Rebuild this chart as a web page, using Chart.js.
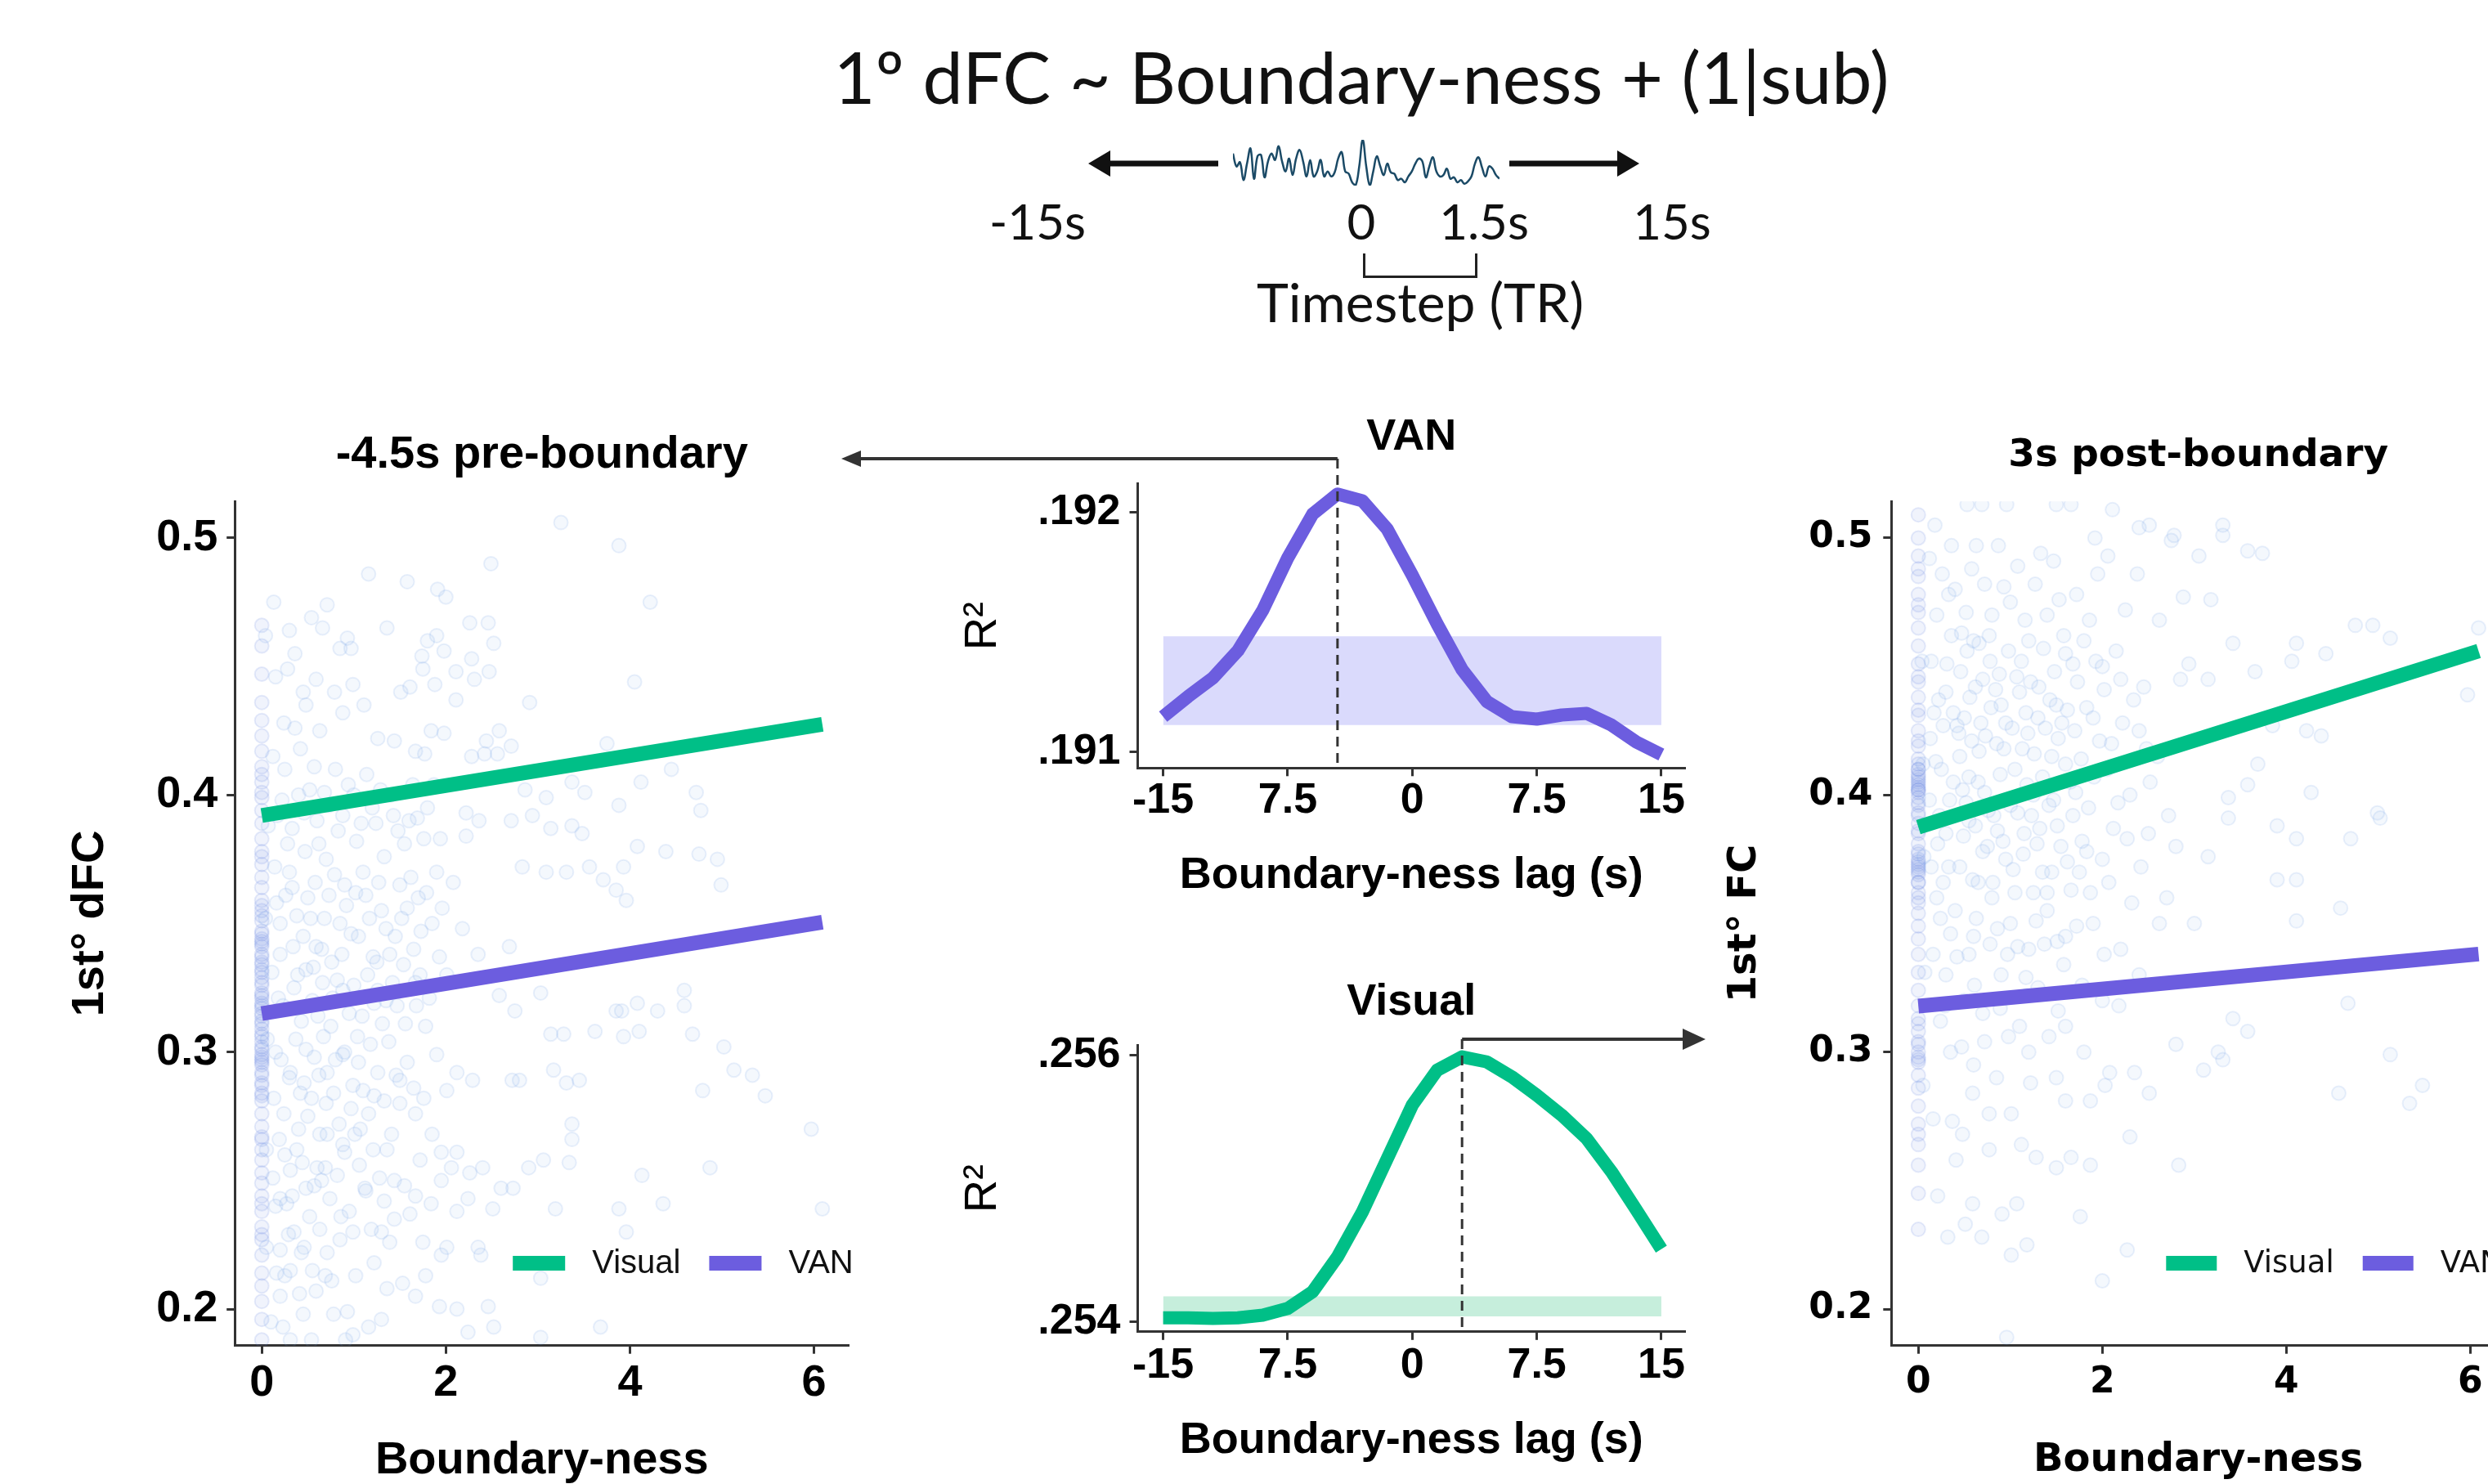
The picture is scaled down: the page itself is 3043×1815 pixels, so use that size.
<!DOCTYPE html>
<html>
<head>
<meta charset="utf-8">
<script src="https://cdn.jsdelivr.net/npm/chart.js@4.4.1/dist/chart.umd.min.js"></script>
<style>
  html, body { margin: 0; padding: 0; background: #fff; }
  body { width: 3043px; height: 1815px; position: relative; overflow: hidden; }
  canvas { position: absolute; }
  .txt { position: absolute; font-family: Lato, "Noto Sans", sans-serif; color: #111; white-space: nowrap;
         transform: translate(-50%, -50%); line-height: 1; }
  .bracket { position: absolute; box-sizing: border-box; border: 3px solid #222; border-top: none; }
</style>
</head>
<body>
<div class="txt" style="left:1665px; top:93px; font-size:88px;">1º dFC ~ Boundary-ness + (1|sub)</div>
<div class="txt" style="left:1269px; top:270px; font-size:60px;">-15s</div>
<div class="txt" style="left:1665px; top:270px; font-size:60px;">0</div>
<div class="txt" style="left:1815px; top:270px; font-size:60px;">1.5s</div>
<div class="txt" style="left:2045px; top:270px; font-size:60px;">15s</div>
<div class="bracket" style="left:1667px; top:310px; width:140px; height:30px;"></div>
<div class="txt" style="left:1737px; top:369px; font-size:66px;">Timestep (TR)</div>

<canvas id="wave" width="750" height="100" style="left:1300px; top:150px;"></canvas>
<canvas id="pre" width="1100" height="1400" style="left:0px; top:480px;"></canvas>
<canvas id="van" width="1100" height="660" style="left:1000px; top:470px;"></canvas>
<canvas id="vis" width="1100" height="660" style="left:1000px; top:1160px;"></canvas>
<canvas id="post" width="1100" height="1400" style="left:2050px; top:480px;"></canvas>

<script>
// ---- data ----
const waveY = [70,42,51,12,48,81,15,64,67,18,53,70,56,86,53,31,59,23,59,78,53,20,56,20,31,56,20,31,20,29,
  59,73,31,26,7,1,42,100,42,1,31,64,42,23,48,29,26,12,15,7,20,31,48,59,53,18,42,62,31,20,
  23,37,15,18,7,12,4,9,20,48,62,40,20,42,37,23,15];

const lags = [-15,-13.5,-12,-10.5,-9,-7.5,-6,-4.5,-3,-1.5,0,1.5,3,4.5,6,7.5,9,10.5,12,13.5,15];
const vanR2 = [0.191148,0.191232,0.191310,0.191423,0.191592,0.191810,0.191993,0.192077,0.192049,0.191930,
  0.191739,0.191535,0.191345,0.191211,0.191148,0.191138,0.191155,0.191162,0.191113,0.191042,0.190990];
const visualR2 = [0.25403,0.25403,0.254025,0.25403,0.25405,0.2541,0.254225,0.254488,0.254825,0.255225,
  0.255625,0.255888,0.255988,0.25595,0.255838,0.2557,0.25555,0.255375,0.255125,0.254838,0.254545];
const vanBand = [0.191113, 0.191483];
const visualBand = [0.25404, 0.25419];
const lagTicks = [-15, -7.5, 0, 7.5, 15];
const lagTickLabels = ['-15', '7.5', '0', '7.5', '15'];
const vanTicks = [0.191, 0.192];
const visualTicks = [0.254, 0.256];
const peakVAN = -4.5;
const peakVisual = 3;

const fcTicks = [0.2, 0.3, 0.4, 0.5];
const bTicks = [0, 2, 4, 6];
const preVisual = [[0, 0.392], [6.09, 0.4275]];
const preVAN = [[0, 0.315], [6.09, 0.3505]];
const postVisual = [[0, 0.3875], [6.09, 0.456]];
const postVAN = [[0, 0.3179], [6.09, 0.3381]];

const preZero = [0.188,0.196,0.203,0.209,0.214,0.221,0.227,0.232,0.238,0.244,0.249,0.253,0.258,0.262,0.267,
  0.271,0.276,0.281,0.284,0.288,0.291,0.295,0.298,0.301,0.304,0.307,0.309,0.312,0.315,0.318,0.321,0.323,
  0.326,0.329,0.332,0.335,0.338,0.341,0.344,0.347,0.351,0.355,0.359,0.364,0.368,0.373,0.378,0.383,0.389,
  0.394,0.399,0.405,0.411,0.417,0.423,0.429,0.436,0.447,0.458,0.466,0.302,0.317,0.331,0.296,0.343,
  0.283,0.287,0.292,0.297,0.299,0.306,0.311,0.314,0.319,0.322,0.327,0.334,0.337,0.342,0.346,0.353,0.357,
  0.229,0.241,0.266,0.401,0.408,0.376];
const prePoints = [
  [3.25,0.506],[3.88,0.497],[2.49,0.490],[1.16,0.486],[1.58,0.483],[1.91,0.480],[2.0,0.477],[0.13,0.475],
  [0.71,0.474],[0.54,0.469],[4.22,0.475],[1.36,0.465],[2.26,0.467],[2.46,0.467],[0.04,0.462],[0.30,0.464],
  [0.66,0.465],[0.93,0.461],[0.97,0.457],[1.90,0.462],[1.80,0.460],[2.52,0.459],[0.36,0.455],[0.85,0.457],
  [1.74,0.454],[1.75,0.449],[1.98,0.456],[2.28,0.453],[0.15,0.446],[0.28,0.449],[2.11,0.448],[2.47,0.448],
  [2.31,0.445],[0.59,0.445],[0.99,0.443],[0.79,0.440],[1.51,0.440],[1.61,0.442],[1.88,0.443],[4.05,0.444],
  [0.45,0.440],[0.48,0.435],[2.11,0.437],[2.91,0.436],[0.88,0.432],[1.11,0.435],[0.36,0.426],[0.24,0.428],
  [0.63,0.425],[1.84,0.425],[1.98,0.424],[2.58,0.425],[1.26,0.422],[1.44,0.421],[1.67,0.417],[1.77,0.416],
  [3.75,0.420],[2.44,0.421],[2.71,0.419],[2.28,0.415],[2.42,0.416],[2.56,0.416],[4.45,0.410],[2.86,0.402],
  [3.09,0.399],[3.37,0.405],[3.51,0.401],[4.12,0.405],[4.72,0.401],[4.77,0.394],[3.88,0.396],[3.14,0.387],
  [3.37,0.388],[3.48,0.385],[2.22,0.393],[2.36,0.390],[1.94,0.383],[2.22,0.384],[4.08,0.380],[2.71,0.390],
  [2.94,0.392],[4.39,0.378],[4.75,0.377],[4.95,0.375],[3.93,0.372],[3.31,0.370],[4.99,0.365],[3.56,0.372],
  [2.83,0.372],[3.09,0.370],[3.96,0.359],[3.71,0.367],[3.85,0.363],[4.59,0.324],[4.59,0.318],[4.30,0.316],
  [4.08,0.319],[3.91,0.316],[3.85,0.316],[4.68,0.307],[5.02,0.302],[5.13,0.293],[5.33,0.291],[5.47,0.283],
  [4.79,0.285],[3.45,0.289],[3.31,0.288],[3.17,0.293],[2.80,0.289],[2.72,0.289],[3.62,0.308],[3.93,0.306],
  [4.10,0.308],[3.14,0.307],[3.28,0.307],[5.97,0.270],[6.09,0.239],[4.87,0.255],[4.36,0.241],[4.13,0.252],
  [3.88,0.239],[3.96,0.230],[3.37,0.272],[3.37,0.266],[3.34,0.257],[3.06,0.258],[3.19,0.239],[2.90,0.255],
  [2.73,0.247],[2.60,0.247],[2.51,0.239],[2.40,0.255],[2.26,0.253],[2.06,0.255],[1.95,0.250],[2.24,0.243],
  [2.12,0.238],[2.01,0.224],[1.95,0.221],[2.35,0.224],[2.38,0.221],[3.03,0.212],[3.68,0.193],[3.03,0.189],
  [1.93,0.201],[2.12,0.200],[2.46,0.201],[2.52,0.193],[2.24,0.191],[1.36,0.208],[1.67,0.205],[1.78,0.213],
  [1.53,0.210],[1.30,0.196],[1.16,0.193],[0.99,0.190],[0.93,0.199],[0.59,0.207],[0.76,0.211],[0.45,0.198],
  [0.31,0.188],[0.54,0.188],[0.91,0.188],[0.31,0.215],[0.43,0.222],[0.20,0.223],[0.85,0.227],[0.99,0.230],
  [0.71,0.222],[1.30,0.230],[1.39,0.226],[1.44,0.235],[1.67,0.244],[1.84,0.241],[1.61,0.237],[1.13,0.246],
  [1.33,0.242],[1.44,0.250],[1.72,0.258],[1.95,0.261],[2.12,0.261],[0.65,0.250],[0.48,0.247],[0.31,0.254],
  [0.20,0.243],[0.71,0.268],[0.88,0.264],[1.07,0.270],[1.21,0.262],[1.50,0.280],[1.67,0.276],[1.33,0.281],
  [1.50,0.289],[2.01,0.285],[2.12,0.292],[1.90,0.299],[2.29,0.289],[0.54,0.282],[0.71,0.292],[0.88,0.299],
  [0.99,0.287],[0.31,0.292],[0.48,0.301],[1.18,0.303],[1.38,0.304],[1.56,0.311],[1.78,0.310],[1.22,0.319],
  [0.88,0.324],[1.67,0.327],[2.01,0.330],[2.35,0.338],[2.69,0.341],[2.75,0.316],[2.58,0.322],[3.03,0.323],
  [0.48,0.332],[0.76,0.335],[0.20,0.338],[0.59,0.341],[0.25,0.410],[0.40,0.400],[0.60,0.390],[0.80,0.410],
  [1.00,0.400],[1.20,0.395],[1.40,0.400],[1.60,0.390],[1.80,0.395],[0.30,0.370],[0.50,0.360],[0.70,0.375],
  [0.90,0.365],[1.10,0.370],[1.30,0.355],[1.50,0.365],[1.70,0.360],[1.90,0.370],[0.20,0.350],[0.45,0.345],
  [0.65,0.340],[0.85,0.350],[1.05,0.345],[1.25,0.335],[1.45,0.345],[1.65,0.340],[1.85,0.350],[0.35,0.325],
  [0.55,0.320],[0.75,0.310],[0.95,0.315],[1.15,0.330],[1.35,0.320],[0.15,0.300],[0.30,0.290],[0.50,0.275],
  [0.70,0.280],[0.90,0.300],[1.10,0.285],[0.25,0.260],[0.40,0.270],[0.60,0.255],[0.15,0.240],[0.35,0.230],
  [0.55,0.215],[0.20,0.205],[0.10,0.195],[0.05,0.262],[0.06,0.305],[0.04,0.352],[0.07,0.388],[0.05,0.224],
  [0.12,0.415],[0.22,0.398],[0.33,0.387],[0.42,0.418],[0.52,0.402],[0.62,0.381],[0.73,0.396],[0.83,0.386],
  [0.94,0.404],[1.03,0.382],[1.14,0.408],[1.24,0.389],[1.33,0.376],[1.43,0.392],[1.55,0.381],[1.64,0.404],
  [1.76,0.383],[1.87,0.404],[0.14,0.372],[0.26,0.361],[0.38,0.353],[0.47,0.378],[0.58,0.366],[0.68,0.352],
  [0.79,0.369],[0.92,0.357],[1.02,0.362],[1.17,0.352],[1.27,0.366],[1.39,0.338],[1.52,0.352],[1.62,0.368],
  [1.73,0.347],[1.96,0.356],[2.08,0.366],[2.18,0.348],[0.11,0.331],[0.23,0.318],[0.34,0.341],[0.43,0.312],
  [0.56,0.333],[0.66,0.327],[0.77,0.321],[0.87,0.338],[1.00,0.326],[1.09,0.314],[1.21,0.337],[1.31,0.311],
  [1.42,0.327],[1.54,0.334],[1.68,0.318],[1.82,0.321],[1.93,0.337],[0.13,0.282],[0.24,0.276],[0.37,0.305],
  [0.46,0.288],[0.57,0.298],[0.67,0.306],[0.78,0.284],[0.84,0.272],[0.97,0.278],[1.05,0.296],[1.16,0.276],
  [1.26,0.292],[1.41,0.268],[1.58,0.296],[1.76,0.282],[1.85,0.268],[0.12,0.251],[0.27,0.241],[0.38,0.262],
  [0.52,0.236],[0.63,0.268],[0.74,0.243],[0.82,0.252],[0.95,0.238],[1.06,0.256],[1.19,0.231],[1.28,0.251],
  [1.55,0.248],[1.75,0.226],[0.16,0.214],[0.29,0.229],[0.41,0.206],[0.63,0.231],[0.78,0.198],[1.02,0.213],
  [1.22,0.218],[0.23,0.193],
  [0.17,0.392],[0.28,0.381],[0.46,0.393],[0.57,0.411],[0.68,0.401],[0.88,0.392],[1.08,0.389],[1.29,0.402],
  [1.48,0.386],[1.69,0.391],[0.16,0.358],[0.33,0.364],[0.53,0.352],[0.73,0.361],[0.97,0.346],[1.13,0.361],
  [1.35,0.348],[1.58,0.356],[1.79,0.362],[0.18,0.321],[0.39,0.330],[0.61,0.314],[0.82,0.328],[1.04,0.306],
  [1.26,0.324],[1.47,0.318],[1.72,0.330],[0.21,0.297],[0.42,0.284],[0.62,0.291],[0.80,0.297],[1.01,0.268],
  [1.22,0.283],[1.46,0.291],[1.65,0.286],[0.19,0.266],[0.44,0.257],[0.69,0.255],[0.90,0.261],[1.12,0.247],
  [1.36,0.262],[0.33,0.244],[0.57,0.248],[0.86,0.236],[0.46,0.224],[0.69,0.213],[0.25,0.213]
];

const postZero = [0.231,0.245,0.256,0.264,0.272,0.279,0.286,0.291,0.296,0.300,0.304,0.308,0.313,0.318,0.324,
  0.331,0.338,0.344,0.349,0.354,0.358,0.362,0.366,0.369,0.372,0.375,0.378,0.381,0.385,0.389,0.393,0.396,
  0.399,0.401,0.403,0.405,0.407,0.410,0.414,0.419,0.425,0.431,0.438,0.444,0.451,0.458,0.465,0.471,0.478,
  0.485,0.493,0.500,0.509,0.402,0.406,0.374,0.371,0.298,0.397,0.402,0.404,0.408,0.410,0.412,0.366,0.370,
  0.373,0.377,0.360,0.386,0.392,0.421,0.433,0.446,0.297,0.303,0.311,0.268,0.474,0.488];
const postPoints = [
  [6.09,0.465],[5.97,0.439],[4.75,0.466],[4.94,0.466],[5.13,0.461],[3.74,0.494],[3.58,0.495],[3.31,0.505],
  [3.31,0.501],[3.05,0.493],[2.88,0.477],[3.18,0.476],[2.78,0.501],[2.75,0.499],[2.40,0.504],[2.51,0.505],
  [2.11,0.511],[1.92,0.500],[1.66,0.513],[1.50,0.513],[0.96,0.513],[0.69,0.513],[0.53,0.513],[4.11,0.459],
  [4.06,0.452],[4.43,0.455],[3.42,0.459],[3.66,0.448],[3.15,0.445],[2.94,0.451],[3.85,0.427],[4.22,0.425],
  [4.38,0.423],[4.27,0.401],[4.70,0.383],[5.02,0.391],[4.99,0.393],[3.90,0.388],[4.11,0.367],[4.11,0.383],
  [3.37,0.399],[3.37,0.391],[3.58,0.404],[3.69,0.412],[4.59,0.356],[4.11,0.351],[3.90,0.367],[5.13,0.299],
  [5.48,0.287],[5.34,0.280],[4.57,0.284],[4.67,0.319],[3.42,0.313],[3.58,0.308],[3.26,0.300],[3.10,0.293],
  [3.31,0.297],[2.80,0.303],[2.83,0.256],[2.51,0.284],[2.35,0.292],[2.03,0.287],[2.08,0.292],[1.87,0.281],
  [1.60,0.281],[1.50,0.255],[1.28,0.259],[1.12,0.264],[1.01,0.276],[0.77,0.276],[0.59,0.284],[0.37,0.273],
  [1.07,0.241],[0.91,0.237],[0.59,0.241],[0.21,0.244],[0.32,0.228],[1.18,0.225],[0.69,0.228],[1.01,0.221],
  [1.76,0.236],[2.27,0.223],[2.00,0.211],[0.96,0.189],[0.51,0.233],[0.48,0.268],[2.30,0.267],[1.87,0.256],
  [1.66,0.259],[0.20,0.470],[0.40,0.480],[0.60,0.460],[0.80,0.470],[1.00,0.475],[1.20,0.460],[1.40,0.470],
  [1.60,0.455],[1.80,0.460],[2.00,0.450],[2.20,0.445],[0.30,0.440],[0.50,0.430],[0.70,0.445],[0.90,0.435],
  [1.10,0.440],[1.30,0.430],[1.50,0.435],[1.70,0.425],[1.90,0.430],[2.10,0.420],[2.40,0.425],[0.25,0.410],
  [0.45,0.415],[0.65,0.405],[0.85,0.420],[1.05,0.410],[1.25,0.400],[1.45,0.415],[1.65,0.405],[1.85,0.395],
  [2.05,0.410],[2.30,0.400],[2.60,0.415],[0.30,0.385],[0.55,0.390],[0.75,0.380],[0.95,0.375],[1.15,0.385],
  [1.35,0.370],[1.55,0.380],[1.75,0.370],[2.00,0.375],[2.50,0.385],[2.80,0.380],[0.20,0.360],[0.40,0.355],
  [0.60,0.345],[0.80,0.360],[1.00,0.350],[1.20,0.340],[1.40,0.355],[1.60,0.345],[1.90,0.350],[2.20,0.340],
  [2.70,0.360],[3.00,0.350],[0.30,0.330],[0.50,0.320],[0.70,0.315],[0.90,0.330],[1.10,0.310],[1.30,0.325],
  [1.60,0.310],[2.00,0.320],[2.40,0.330],[0.35,0.300],[0.60,0.295],[0.85,0.290],[1.20,0.300],[1.50,0.290],
  [1.80,0.300],[0.05,0.412],[0.06,0.376],[0.04,0.452],[0.07,0.331],[0.05,0.287],
  [0.12,0.492],[0.26,0.486],[0.36,0.497],[0.47,0.463],[0.58,0.488],[0.72,0.482],[0.87,0.497],[1.08,0.489],
  [1.27,0.482],[1.47,0.491],[1.72,0.478],[1.95,0.486],[2.25,0.472],[2.62,0.468],[0.14,0.452],[0.22,0.437],
  [0.36,0.462],[0.46,0.448],[0.56,0.438],[0.66,0.459],[0.78,0.452],[0.88,0.447],[0.98,0.456],[1.12,0.452],
  [1.22,0.444],[1.36,0.457],[1.48,0.448],[1.58,0.462],[1.73,0.444],[1.93,0.452],[2.15,0.456],[2.45,0.442],
  [2.85,0.445],[0.13,0.422],[0.27,0.427],[0.38,0.432],[0.48,0.402],[0.58,0.421],[0.68,0.428],[0.79,0.434],
  [0.93,0.418],[1.02,0.426],[1.17,0.432],[1.26,0.416],[1.38,0.426],[1.52,0.422],[1.62,0.433],[1.77,0.414],
  [1.97,0.421],[2.22,0.428],[2.52,0.405],[0.12,0.398],[0.23,0.392],[0.38,0.405],[0.52,0.397],[0.62,0.388],
  [0.72,0.401],[0.82,0.392],[1.08,0.393],[1.18,0.404],[1.32,0.387],[1.42,0.396],[1.68,0.392],[1.78,0.382],
  [2.12,0.387],[2.42,0.372],[2.72,0.392],[3.15,0.376],[0.14,0.372],[0.27,0.366],[0.45,0.372],[0.65,0.366],
  [0.86,0.386],[1.05,0.362],[1.25,0.362],[1.45,0.370],[1.66,0.363],[1.87,0.362],[2.32,0.358],[2.62,0.350],
  [0.16,0.338],[0.35,0.346],[0.55,0.338],[0.78,0.342],[0.97,0.338],[1.17,0.329],[1.37,0.342],[1.58,0.334],
  [1.78,0.326],[2.18,0.318],[0.24,0.312],[0.47,0.302],[0.72,0.304],[0.98,0.306],[1.22,0.288],[1.42,0.306],
  [0.16,0.274],[0.41,0.258],[0.77,0.262],
  [0.18,0.505],[0.33,0.478],[0.52,0.471],[0.63,0.497],[0.77,0.462],[0.93,0.481],[1.16,0.468],[1.33,0.494],
  [1.53,0.476],[1.86,0.468],[2.06,0.493],[2.38,0.486],[0.17,0.432],[0.31,0.451],[0.42,0.427],[0.53,0.456],
  [0.62,0.442],[0.73,0.423],[0.84,0.441],[0.95,0.428],[1.07,0.446],[1.19,0.424],[1.31,0.442],[1.43,0.437],
  [1.56,0.428],[1.68,0.451],[1.83,0.434],[2.02,0.441],[2.34,0.437],[0.19,0.413],[0.34,0.398],[0.44,0.424],
  [0.55,0.407],[0.66,0.417],[0.76,0.394],[0.89,0.408],[1.00,0.396],[1.13,0.418],[1.23,0.392],[1.35,0.407],
  [1.47,0.398],[1.60,0.412],[1.71,0.401],[1.91,0.407],[2.17,0.397],[2.48,0.418],[0.21,0.381],[0.33,0.372],
  [0.49,0.384],[0.59,0.367],[0.70,0.378],[0.81,0.366],[0.92,0.382],[1.03,0.371],[1.14,0.377],[1.29,0.381],
  [1.40,0.362],[1.51,0.388],[1.62,0.374],[1.83,0.378],[2.07,0.366],[2.27,0.383],[0.24,0.352],[0.42,0.337],
  [0.63,0.352],[0.86,0.348],[1.08,0.341],[1.28,0.351],[1.51,0.343],[1.72,0.349],[2.02,0.338],[0.29,0.318],
  [0.61,0.326],[0.89,0.317],[1.18,0.322],[1.52,0.316]
];

// ---- styles ----
const GREEN = '#00BF87';
const PURPLE = '#6C5DDF';
const NARROW = "'Liberation Sans Narrow', 'Arial Narrow', 'Liberation Sans', sans-serif";
const WIDE = "'DejaVu Sans', sans-serif";
const AXIS = '#333';

Chart.defaults.devicePixelRatio = 1;

function drawArrow(ctx, x1, y, x2, lw, headLen, headHalf, color) {
  const dir = Math.sign(x2 - x1);
  ctx.save();
  ctx.strokeStyle = color;
  ctx.fillStyle = color;
  ctx.lineWidth = lw;
  ctx.setLineDash([]);
  ctx.beginPath();
  ctx.moveTo(x1, y);
  ctx.lineTo(x2 - dir * headLen * 0.8, y);
  ctx.stroke();
  ctx.beginPath();
  ctx.moveTo(x2, y);
  ctx.lineTo(x2 - dir * headLen, y - headHalf);
  ctx.lineTo(x2 - dir * headLen, y + headHalf);
  ctx.closePath();
  ctx.fill();
  ctx.restore();
}

// arrows either side of the waveform
const sideArrows = {
  id: 'sideArrows',
  afterDraw(chart, args, o) {
    const a = chart.chartArea;
    drawArrow(chart.ctx, a.left - o.gapL, o.y, a.left - o.gapL - o.len, 7, 27, 16, '#111');
    drawArrow(chart.ctx, a.right + o.gapR, o.y, a.right + o.gapR + o.len, 7, 27, 16, '#111');
  }
};

// dashed peak-lag line plus arrow pointing to the matching scatter panel
const lagMarker = {
  id: 'lagMarker',
  afterDatasetsDraw(chart, args, o) {
    const ctx = chart.ctx;
    const x = chart.scales.x.getPixelForValue(o.lag);
    ctx.save();
    ctx.strokeStyle = AXIS;
    ctx.lineWidth = 3;
    ctx.setLineDash([12, 8]);
    ctx.beginPath();
    ctx.moveTo(x, o.y);
    ctx.lineTo(x, chart.chartArea.bottom);
    ctx.stroke();
    ctx.restore();
    drawArrow(ctx, x, o.y, o.toX, 4, o.headLen, o.head, AXIS);
  }
};

// legend drawn inside the plot, bottom right
const insideLegend = {
  id: 'insideLegend',
  afterDatasetsDraw(chart, args, o) {
    const ctx = chart.ctx;
    const a = chart.chartArea;
    let x = a.left + o.x;
    const y = a.bottom + o.dy;
    ctx.save();
    ctx.font = o.font;
    ctx.textBaseline = 'middle';
    ctx.textAlign = 'left';
    chart.data.datasets.filter(d => d.type === 'line').forEach(d => {
      ctx.fillStyle = d.borderColor;
      ctx.fillRect(x, y - 9, o.swatch, 18);
      x += o.swatch + 33;
      ctx.fillStyle = '#111';
      ctx.fillText(d.label, x, y + 1);
      x += ctx.measureText(d.label).width + 35;
    });
    ctx.restore();
  }
};

new Chart(document.getElementById('wave'), {
  type: 'line',
  data: {
    datasets: [{
      data: waveY.map((v, i) => ({ x: i, y: v })),
      borderColor: '#1b4a66', borderWidth: 2.5, pointRadius: 0, tension: 0.4
    }]
  },
  options: {
    responsive: false, animation: false, events: [],
    layout: { padding: { left: 208, right: 216, top: 21, bottom: 23 } },
    plugins: { legend: { display: false }, tooltip: { enabled: false },
      sideArrows: { y: 50, gapL: 18, gapR: 12, len: 159 } },
    scales: {
      x: { type: 'linear', display: false, min: 0, max: waveY.length - 1 },
      y: { display: false, min: 0, max: 100 }
    }
  },
  plugins: [sideArrows]
});

function fcChart(id, c) {
  const tickFont = { family: c.family, size: c.tickSize, weight: 'bold', lineHeight: 1 };
  const titleFont = { family: c.family, size: c.titleSize, weight: 'bold', lineHeight: 1 };
  const line = (label, pts, color) => ({
    type: 'line', label: label, data: pts.map(p => ({ x: p[0], y: p[1] })),
    borderColor: color, borderWidth: 18, pointRadius: 0, fill: false
  });
  return new Chart(document.getElementById(id), {
    type: 'scatter',
    data: {
      datasets: [
        line('Visual', c.visual, GREEN),
        line('VAN', c.van, PURPLE),
        { label: 'obs', data: c.points.map(p => ({ x: p[0], y: p[1] })), pointRadius: 8.5, borderWidth: 2,
          backgroundColor: 'rgba(120,165,232,0.08)', borderColor: 'rgba(110,155,228,0.15)' },
        { label: 'obs at 0', data: c.zero.map(v => ({ x: 0, y: v })), pointRadius: 8.5, borderWidth: 2,
          backgroundColor: 'rgba(105,135,228,0.10)', borderColor: 'rgba(100,130,225,0.16)' }
      ]
    },
    options: {
      responsive: false, animation: false, events: [],
      layout: { padding: { left: 0, right: c.padRight, top: 0, bottom: 0 } },
      plugins: {
        legend: { display: false }, tooltip: { enabled: false },
        title: { display: true, text: c.title, fullSize: false, color: '#000', font: { family: c.family, size: c.headSize, weight: 'bold', lineHeight: 1 },
          padding: { top: c.headTop, bottom: c.headBottom } },
        insideLegend: c.legend
      },
      scales: {
        x: {
          type: 'linear', min: -0.293, max: 6.379,
          afterBuildTicks: s => { s.ticks = bTicks.map(v => ({ value: v })); },
          afterFit: s => { s.height = 234.3; },
          ticks: { font: tickFont, color: '#000', padding: c.xTickPad, callback: v => String(v) },
          grid: { drawOnChartArea: false, tickLength: 10, tickWidth: 3, tickColor: AXIS },
          border: { color: AXIS, width: 3 },
          title: { display: true, text: 'Boundary-ness', color: '#000', font: titleFont, padding: { top: 0, bottom: c.xTitlePad } }
        },
        y: {
          min: 0.1858, max: 0.5142,
          afterBuildTicks: s => { s.ticks = fcTicks.map(v => ({ value: v })); },
          afterFit: s => { s.width = c.yWidth; },
          ticks: { font: tickFont, color: '#000', padding: c.yTickPad, callback: v => v.toFixed(1) },
          grid: { drawOnChartArea: false, tickLength: 10, tickWidth: 3, tickColor: AXIS },
          border: { color: AXIS, width: 3 },
          title: { display: true, text: c.yTitle, color: '#000', font: titleFont, padding: { top: c.yTitlePad, bottom: 0 } }
        }
      }
    },
    plugins: [insideLegend]
  });
}

function lagChart(id, c) {
  const tickFont = { family: NARROW, size: 52, weight: 'bold', lineHeight: 1 };
  const headFont = { family: NARROW, size: 54, weight: 'bold', lineHeight: 1 };
  const pt = vals => lags.map((l, i) => ({ x: l, y: vals[i] }));
  return new Chart(document.getElementById(id), {
    type: 'line',
    data: {
      datasets: [
        { label: c.title, data: pt(c.values), borderColor: c.color, borderWidth: 16, pointRadius: 0,
          tension: 0, borderJoinStyle: 'round', fill: false },
        { label: 'band hi', data: [{ x: -15, y: c.band[1] }, { x: 15, y: c.band[1] }],
          borderColor: 'rgba(0,0,0,0)', pointRadius: 0, fill: false },
        { label: 'band lo', data: [{ x: -15, y: c.band[0] }, { x: 15, y: c.band[0] }],
          borderColor: 'rgba(0,0,0,0)', pointRadius: 0, fill: '-1', backgroundColor: c.bandColor }
      ]
    },
    options: {
      responsive: false, animation: false, events: [],
      layout: { padding: { left: 0, right: 39, top: 0, bottom: 0 } },
      plugins: {
        legend: { display: false }, tooltip: { enabled: false },
        title: { display: true, text: c.title, fullSize: false, color: '#000', font: headFont,
          padding: { top: c.headTop, bottom: c.headBottom } },
        lagMarker: c.marker
      },
      scales: {
        x: {
          type: 'linear', min: -16.53, max: 16.43,
          afterBuildTicks: s => { s.ticks = lagTicks.map(v => ({ value: v })); },
          afterFit: s => { s.height = c.xHeight; },
          ticks: { font: tickFont, color: '#000', padding: c.xTickPad, callback: (v, i) => lagTickLabels[i] },
          grid: { drawOnChartArea: false, tickLength: 10, tickWidth: 3, tickColor: AXIS },
          border: { color: AXIS, width: 3 },
          title: { display: true, text: 'Boundary-ness lag (s)', color: '#000', font: headFont,
            padding: { top: 0, bottom: c.xTitlePad } }
        },
        y: {
          min: c.min, max: c.max,
          afterBuildTicks: s => { s.ticks = c.ticks.map(v => ({ value: v })); },
          afterFit: s => { s.width = 391.5; },
          ticks: { font: tickFont, color: '#000', padding: 11, callback: v => v.toFixed(3).replace(/^0/, '') },
          grid: { drawOnChartArea: false, tickLength: 10, tickWidth: 3, tickColor: AXIS },
          border: { color: AXIS, width: 3 },
          title: { display: true, text: 'R²', color: '#000',
            font: { family: "'Liberation Sans', Arial, sans-serif", size: 56, weight: 'normal', lineHeight: 1 },
            padding: { top: 175, bottom: 0 } }
        }
      }
    },
    plugins: [lagMarker]
  });
}

fcChart('pre', {
  title: '-4.5s pre-boundary', yTitle: '1st° dFC', family: NARROW,
  visual: preVisual, van: preVAN, zero: preZero, points: prePoints,
  padRight: 61.7, yWidth: 287.2, tickSize: 54, titleSize: 56, headSize: 56,
  headTop: 49, headBottom: 28.3, xTickPad: 9.3, yTickPad: 11, xTitlePad: 65, yTitlePad: 82.6,
  legend: { x: 340, dy: -100.7, swatch: 64, font: "40px " + NARROW }
});

fcChart('post', {
  title: '3s post-boundary', yTitle: '1st° FC', family: WIDE,
  visual: postVisual, van: postVAN, zero: postZero, points: postPoints,
  padRight: 86, yWidth: 263.3, tickSize: 44, titleSize: 48, headSize: 47,
  headTop: 54, headBottom: 32.3, xTickPad: 14.3, yTickPad: 13, xTitlePad: 69, yTitlePad: 61,
  legend: { x: 336, dy: -100.7, swatch: 62, font: "37px " + WIDE }
});

lagChart('van', {
  title: 'VAN', values: vanR2, color: PURPLE, band: vanBand, bandColor: '#DADAFC',
  min: 0.190934, max: 0.192119, ticks: vanTicks,
  headTop: 38.6, headBottom: 29.3, xHeight: 190.7, xTickPad: 4.7, xTitlePad: 32,
  marker: { lag: peakVAN, y: 91, toX: 29, head: 10, headLen: 24 }
});

lagChart('vis', {
  title: 'Visual', values: visualR2, color: GREEN, band: visualBand, bandColor: '#C6EEDC',
  min: 0.253925, max: 0.256075, ticks: visualTicks,
  headTop: 39.5, headBottom: 24.9, xHeight: 191.2, xTickPad: 6.2, xTitlePad: 31,
  marker: { lag: peakVisual, y: 111, toX: 1086, head: 13, headLen: 28 }
});
</script>
</body>
</html>
